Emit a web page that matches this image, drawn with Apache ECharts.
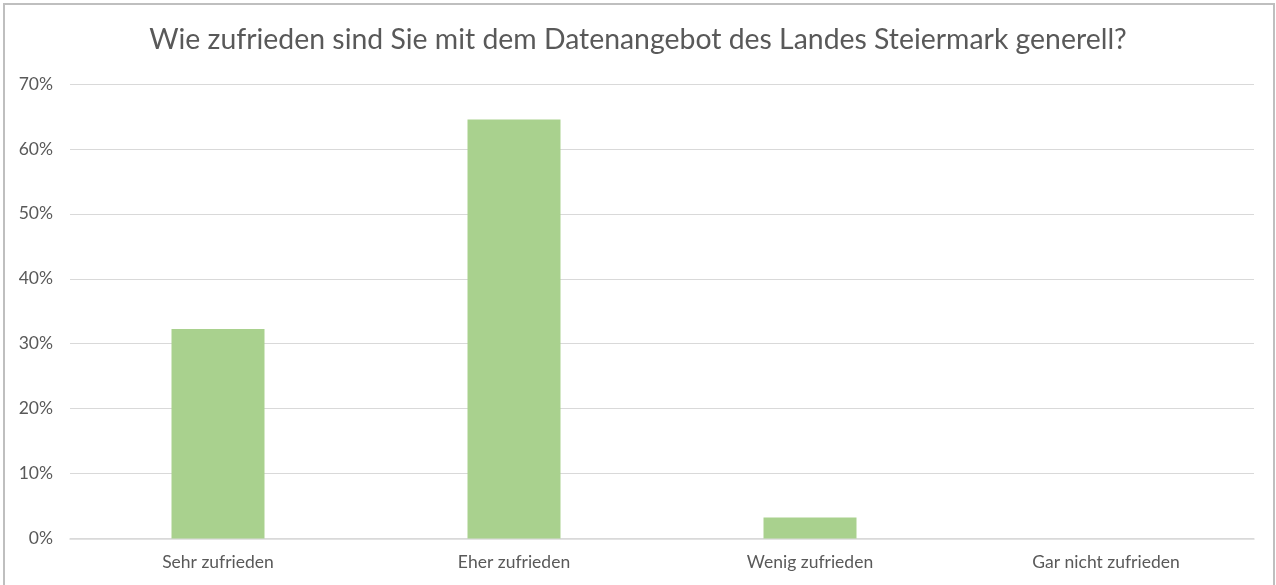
<!DOCTYPE html>
<html>
<head>
<meta charset="utf-8">
<script src="https://cdn.jsdelivr.net/npm/echarts@6/dist/echarts.min.js"></script>
<style>
  html, body { margin: 0; padding: 0; background: #ffffff; }
  #chart { width: 1276px; height: 585px; }
</style>
</head>
<body>
<div id="chart"></div>
<script>
// categories and values (share of answers, in %)
const categories = ["Sehr zufrieden", "Eher zufrieden", "Wenig zufrieden", "Gar nicht zufrieden"];
const shares = [32.26, 64.52, 3.23, 0];
const yTicks = [0, 10, 20, 30, 40, 50, 60, 70];

const textColor = "#595959";
const fontFamily = "Lato, 'Open Sans', sans-serif";

const chart = echarts.init(document.getElementById("chart"));

const option = {
  backgroundColor: "#ffffff",
  animation: false,
  title: {
    text: "Wie zufrieden sind Sie mit dem Datenangebot des Landes Steiermark generell?",
    left: "center",
    top: 21,
    textStyle: {
      color: textColor,
      fontSize: 28.4,
      fontWeight: "normal",
      fontFamily: fontFamily,
    },
  },
  graphic: [
    {
      type: "rect",
      shape: { x: 4, y: 4, width: 1270, height: 600 },
      style: { fill: "none", stroke: "#bfbfbf", lineWidth: 2 },
      silent: true,
    },
  ],
  grid: {
    left: 70,
    right: 22,
    top: 84,
    bottom: 46.5,
  },
  xAxis: {
    type: "category",
    data: categories,
    axisLine: { lineStyle: { color: "#d9d9d9", width: 1.5 } },
    axisTick: { show: false },
    axisLabel: {
      color: textColor,
      fontSize: 17.5,
      fontFamily: fontFamily,
      margin: 15,
    },
  },
  yAxis: {
    type: "value",
    min: yTicks[0],
    max: yTicks[yTicks.length - 1],
    interval: 10,
    axisLine: { show: false },
    axisTick: { show: false },
    axisLabel: {
      color: textColor,
      fontSize: 17.5,
      fontFamily: fontFamily,
      margin: 17,
      formatter: (v) => v + "%",
    },
    splitLine: { lineStyle: { color: "#d9d9d9", width: 1.2 } },
  },
  series: [
    {
      type: "bar",
      data: shares,
      barWidth: 93,
      itemStyle: { color: "#a9d18e" },
    },
  ],
};

chart.setOption(option);
</script>
</body>
</html>
